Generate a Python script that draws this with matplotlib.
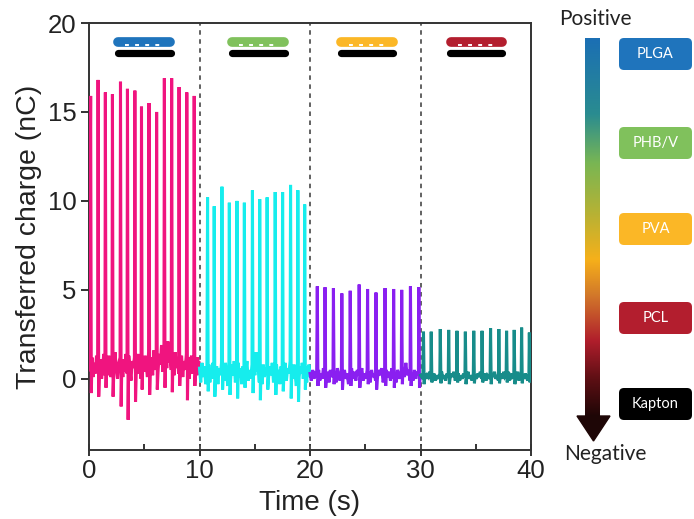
import numpy as np
import matplotlib.pyplot as plt
from matplotlib.patches import FancyBboxPatch, Polygon
from matplotlib.colors import LinearSegmentedColormap

plt.rcParams['font.family'] = ['Liberation Sans', 'DejaVu Sans']

# ---- data ----
seg_bounds = [(0, 10), (10, 20), (20, 30), (30, 40)]
seg_colors = ['#F0147F', '#16EDED', '#8A1FF0', '#178C8A']

# PLGA / Kapton
t_plga = [0.15, 0.82, 1.48, 2.12, 2.85, 3.48, 4.15, 4.75, 5.43, 6.12, 6.82, 7.48, 8.15, 8.85, 9.52]
q_plga = [15.9, 16.8, 16.1, 16.0, 16.7, 16.3, 16.2, 15.3, 15.5, 15.0, 16.9, 16.9, 16.4, 16.1, 15.9]
dip_plga = [-0.8, -1.0, -0.5, -1.0, -1.55, -2.3, -1.3, -0.6, -0.9, -0.6, -0.5, -0.75, -0.4, -1.2, -0.4]
lead_plga = [0.5]
noise_plga = [
    [1.2, 0.1, 0.9, 0.3, 1.3, 0.5],
    [0.4, 1.1, 0.0, 0.8, 1.4, 0.2],
    [1.0, 0.2, 1.3, 0.5, 0.1, 1.1],
    [0.3, 1.5, 0.6, 0.0, 0.9, 1.2],
    [0.8, 0.1, 1.1, 0.4, 1.4, 0.3],
    [1.3, 0.5, -0.1, 1.0, 0.6, 1.2],
    [0.2, 0.9, 1.4, 0.3, 1.0, 0.0],
    [1.1, 0.4, 1.3, 0.7, 0.1, 1.5],
    [0.6, 1.2, 0.2, 1.6, 0.5, 1.0],
    [0.3, 1.4, 0.8, 1.9, 0.4, 1.1],
    [1.6, 0.6, 2.1, 0.9, 1.3, 0.5],
    [1.0, 0.2, 1.5, 0.6, 1.2, 0.3],
    [0.7, 1.3, 0.1, 1.0, 0.5, 1.4],
    [1.2, 0.0, 0.9, 1.3, 0.3, 1.0],
    [0.5, 1.1, 0.2, 1.2, 0.6, 0.9],
]

# PHB/V / Kapton
t_phbv = [10.73, 11.33, 12.03, 12.70, 13.39, 14.06, 14.79, 15.45, 16.12, 16.85, 17.52, 18.24, 18.90, 19.52]
q_phbv = [10.2, 9.7, 10.8, 9.9, 10.0, 9.9, 10.6, 10.1, 10.2, 10.5, 10.5, 10.9, 10.6, 9.8]
dip_phbv = [-0.7, -1.0, -0.6, -0.9, -1.1, -0.5, -0.8, -1.2, -0.6, -0.9, -0.7, -1.1, -1.3, -0.6]
lead_phbv = [0.6, -0.2, 0.9, 0.1, 0.7, -0.3, 0.5]
noise_phbv = [
    [0.8, -0.2, 0.5, 0.0, 0.9, 0.2],
    [0.1, 0.7, -0.3, 0.6, 0.2, 0.9],
    [0.6, -0.1, 0.9, 0.3, -0.4, 0.5],
    [0.0, 0.8, 0.2, 1.0, -0.2, 0.4],
    [0.9, 0.1, 0.6, -0.3, 0.7, 0.2],
    [0.3, 1.0, -0.1, 0.5, 0.0, 0.8],
    [1.2, 0.2, 1.5, 0.4, 0.9, -0.2],
    [0.5, -0.3, 0.8, 0.1, 0.6, 0.3],
    [0.0, 0.7, 0.2, 0.9, -0.2, 0.5],
    [0.8, 0.1, 0.5, -0.3, 0.7, 0.2],
    [0.2, 0.9, -0.1, 0.6, 0.3, 1.0],
    [0.6, 0.0, 0.8, 0.2, -0.4, 0.5],
    [0.1, 0.7, 0.3, 0.9, 0.0, 0.6],
    [0.5, -0.2, 0.7, 0.1, 0.8, 0.3],
]

# PVA / Kapton
t_pva = [20.66, 21.36, 22.12, 22.88, 23.64, 24.45, 25.21, 25.97, 26.79, 27.57, 28.30, 29.09, 29.85]
q_pva = [5.2, 5.15, 5.1, 4.8, 4.95, 5.3, 5.05, 4.85, 5.1, 5.05, 5.0, 5.2, 5.15]
dip_pva = [-0.4, -0.5, -0.3, -0.6, -0.4, -0.5, -0.3, -0.6, -0.4, -0.5, -0.3, -0.4, -0.5]
lead_pva = [0.3, -0.1, 0.5, 0.0, 0.4, 0.1]
noise_pva = [
    [0.5, -0.1, 0.3, 0.0, 0.6, 0.1],
    [0.0, 0.4, -0.2, 0.5, 0.1, 0.3],
    [0.4, -0.2, 0.6, 0.2, -0.1, 0.5],
    [0.1, 0.5, 0.0, 0.3, -0.3, 0.4],
    [0.6, 0.0, 0.4, -0.1, 0.5, 0.2],
    [0.2, 0.6, -0.1, 0.3, 0.0, 0.5],
    [0.4, -0.2, 0.5, 0.1, 0.3, -0.1],
    [0.0, 0.5, 0.2, 0.6, -0.2, 0.3],
    [0.5, 0.1, 0.4, -0.1, 0.6, 0.0],
    [0.2, -0.2, 0.5, 0.3, 0.0, 0.4],
    [0.6, 0.1, 0.9, 0.2, 0.5, -0.1],
    [0.3, -0.1, 0.5, 0.0, 0.4, 0.2],
    [0.2],
]

# PCL / Kapton
t_pcl = [30.27, 30.97, 31.79, 32.55, 33.30, 34.06, 34.82, 35.57, 36.34, 37.09, 37.79, 38.48, 39.15, 39.85]
q_pcl = [2.65, 2.65, 2.8, 2.75, 2.7, 2.65, 2.7, 2.7, 2.85, 2.8, 2.7, 2.75, 2.88, 2.6]
dip_pcl = [-0.3, -0.2, -0.25, -0.3, -0.2, -0.3, -0.25, -0.2, -0.3, -0.25, -0.2, -0.3, -0.25, -0.2]
lead_pcl = [0.2, 0.0]
noise_pcl = [
    [0.3, 0.0, 0.2, 0.1, 0.4, 0.0],
    [0.1, 0.3, -0.1, 0.2, 0.0, 0.3],
    [0.4, 0.0, 0.2, -0.1, 0.3, 0.1],
    [0.0, 0.3, 0.1, 0.4, -0.1, 0.2],
    [0.3, -0.1, 0.2, 0.0, 0.3, 0.1],
    [0.1, 0.4, 0.0, 0.2, -0.1, 0.3],
    [0.2, 0.0, 0.3, 0.1, 0.4, 0.0],
    [0.0, 0.3, -0.1, 0.2, 0.1, 0.3],
    [0.3, 0.1, 0.4, 0.0, 0.2, -0.1],
    [0.1, 0.3, 0.0, 0.4, 0.1, 0.2],
    [0.4, -0.1, 0.2, 0.1, 0.3, 0.0],
    [0.0, 0.2, 0.4, -0.1, 0.3, 0.1],
    [0.2, 0.0, 0.3, 0.1, -0.1, 0.3],
    [0.1],
]

segments = [
    (lead_plga, t_plga, q_plga, dip_plga, noise_plga),
    (lead_phbv, t_phbv, q_phbv, dip_phbv, noise_phbv),
    (lead_pva, t_pva, q_pva, dip_pva, noise_pva),
    (lead_pcl, t_pcl, q_pcl, dip_pcl, noise_pcl),
]

# contact pair bars on top (time span of each icon)
bar_starts = [2.3, 12.6, 22.5, 32.4]
bar_ends = [7.7, 18.0, 27.85, 37.7]
bar_colors = ['#1F74BC', '#80C15C', '#FBB726', '#B31E2E']

# triboelectric series panel
materials = ['PLGA', 'PHB/V', 'PVA', 'PCL', 'Kapton']
mat_colors = ['#1F74BC', '#80C15C', '#FBB726', '#B31E2E', '#000000']
series_stops = [0.0, 0.2, 0.33, 0.46, 0.585, 0.68, 0.8, 0.9, 1.0]
series_colors = ['#1B6FB4', '#2A8C90', '#79B653', '#B5B235', '#F6B01A',
                 '#D2782A', '#B01E2C', '#5E0F14', '#1E0606']


def build_trace(t0, t1, lead, t_pk, q_pk, dips, noise):
    ts = list(np.linspace(t0, t_pk[0] - 0.06, len(lead)))
    qs = list(lead)
    for i, tp in enumerate(t_pk):
        t_next = t_pk[i + 1] if i + 1 < len(t_pk) else t1
        ts += [tp, tp + 0.06]
        qs += [q_pk[i], dips[i]]
        row = noise[i]
        ts += list(np.linspace(tp + 0.12, t_next - 0.04, len(row)))
        qs += row
    return ts, qs


fig = plt.figure(figsize=(6.94, 5.19), dpi=100)
ax = fig.add_axes([89 / 694, 69 / 519, 442 / 694, 427 / 519])

for (t0, t1), c, seg in zip(seg_bounds, seg_colors, segments):
    ts, qs = build_trace(t0, t1, *seg)
    ax.plot(ts, qs, color=c, lw=2.2, solid_joinstyle='miter', zorder=3)

for (t0, t1) in seg_bounds[1:]:
    ax.axvline(t0, color='#555555', lw=1.3, ls=(0, (2.5, 2.5)), zorder=2)

for s, e, c in zip(bar_starts, bar_ends, bar_colors):
    ax.plot([s + 0.35, e - 0.35], [18.93, 18.93], color=c, lw=7.0,
            solid_capstyle='round', zorder=4)
    ax.plot([s + 1.0, e - 0.9], [18.76, 18.76], color='white', lw=1.4,
            ls=(0, (2.0, 3.2)), zorder=5)
    ax.plot([s + 0.3, e - 0.3], [18.31, 18.31], color='black', lw=5.2,
            solid_capstyle='round', zorder=4)

ax.set_xlim(0, 40)
ax.set_ylim(-4, 20)
ax.set_xticks([0, 10, 20, 30, 40])
ax.set_xticks([5, 15, 25, 35], minor=True)
ax.set_yticks([0, 5, 10, 15, 20])
for sp in ax.spines.values():
    sp.set_color('#333333')
    sp.set_linewidth(1.4)
ax.tick_params(axis='y', direction='out', length=6, width=1.4, color='#333333',
               labelsize=18.5, labelcolor='#222222', pad=3)
ax.tick_params(axis='x', which='major', direction='inout', length=9, width=1.4,
               color='#333333', labelsize=18.5, labelcolor='#222222', pad=2)
ax.tick_params(axis='x', which='minor', direction='in', length=4, width=1.4,
               color='#333333')
ax.set_xlabel('Time (s)', fontsize=20, color='#222222', labelpad=5)
ax.set_ylabel('Transferred charge (nC)', fontsize=20.5, color='#222222', labelpad=4)

# right panel in pixel coordinates
ov = fig.add_axes([0, 0, 1, 1], facecolor='none')
ov.axis('off')

cmap = LinearSegmentedColormap.from_list('tribo', list(zip(series_stops, series_colors)))
grad = np.linspace(0, 1, 256).reshape(-1, 1)
ov.imshow(grad, cmap=cmap, aspect='auto', extent=(585, 600, 417, 38),
          interpolation='bilinear', zorder=1)
ov.add_patch(Polygon([(577, 416), (610, 416), (593.5, 441)], closed=True,
                     color=series_colors[-1], zorder=2))
ov.set_xlim(0, 694)
ov.set_ylim(519, 0)

panel_font = ['Lato', 'DejaVu Sans']
ov.text(595, 19, 'Positive', ha='center', va='center', fontsize=15,
        family=panel_font, color='#222222')
ov.text(605, 454, 'Negative', ha='center', va='center', fontsize=15,
        family=panel_font, color='#222222')

box_tops = [38, 127, 213, 302, 388]
for name, c, y0 in zip(materials, mat_colors, box_tops):
    ov.add_patch(FancyBboxPatch((619, y0), 73, 32,
                                boxstyle='round,pad=0,rounding_size=5',
                                fc=c, ec='none', zorder=2))
    ov.text(655.5, y0 + 16, name, ha='center', va='center', fontsize=10.5,
            family=panel_font, color='white', zorder=3)

fig.savefig('out.png', dpi=100)
